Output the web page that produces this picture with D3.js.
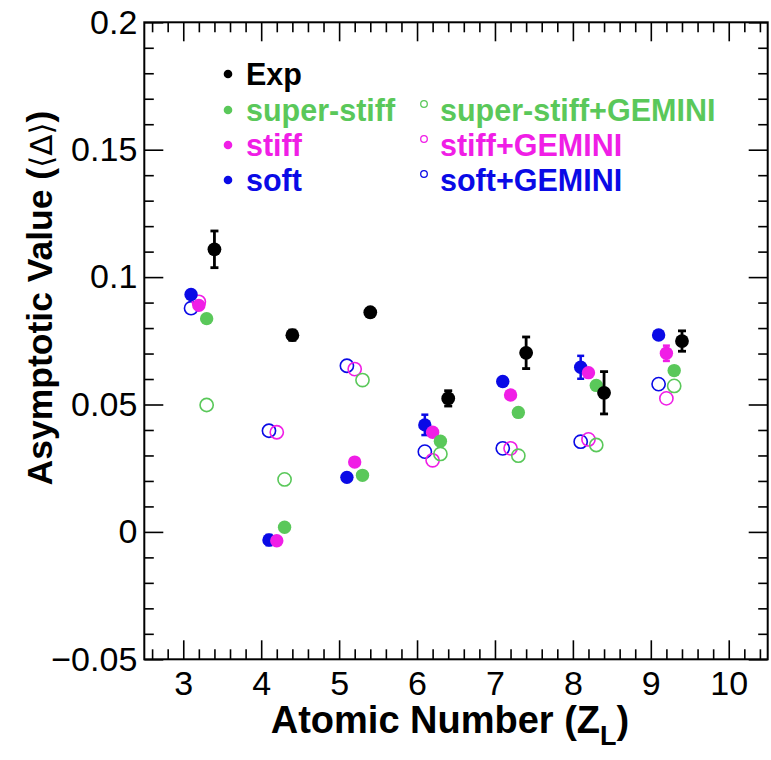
<!DOCTYPE html>
<html>
<head>
<meta charset="utf-8">
<script src="https://cdn.jsdelivr.net/npm/d3@7"></script>
<style>
  html, body { margin: 0; padding: 0; background: #fff; }
  svg { display: block; font-family: "Liberation Sans", Arial, Helvetica, sans-serif; }
</style>
</head>
<body>
<svg id="chart" width="771" height="760"></svg>
<script>
// Atomic numbers of the light fragments
const zValues = [3, 4, 5, 6, 7, 8, 9];

// Experimental asymptotic values and their uncertainties
const expValues = [0.1109, 0.0772, 0.0862, 0.0524, 0.0703, 0.0546, 0.0749];
const expErrors = [0.0072, 0.0020, 0.0015, 0.0030, 0.0062, 0.0083, 0.0040];

// Transport model results (filled markers)
const softValues       = [0.0932, -0.0032, 0.0214, 0.0420, 0.0590, 0.0646, 0.0773];
const softErrors       = [0.0010, 0.0020, 0.0010, 0.0040, 0.0015, 0.0045, 0.0015];
const stiffValues      = [0.0889, -0.0035, 0.0274, 0.0391, 0.0537, 0.0625, 0.0701];
const stiffErrors      = [0.0015, 0.0010, 0.0012, 0.0015, 0.0015, 0.0015, 0.0030];
const superStiffValues = [0.0837, 0.0018, 0.0222, 0.0356, 0.0469, 0.0575, 0.0633];
const superStiffErrors = [0.0010, 0.0010, 0.0010, 0.0012, 0.0010, 0.0012, 0.0012];

// Transport model + GEMINI afterburner (open markers)
const softGemValues       = [0.0878, 0.0397, 0.0652, 0.0315, 0.0328, 0.0354, 0.0580];
const stiffGemValues      = [0.0903, 0.0391, 0.0639, 0.0281, 0.0328, 0.0363, 0.0524];
const superStiffGemValues = [0.0498, 0.0206, 0.0596, 0.0306, 0.0299, 0.0341, 0.0573];

// Axis ticks
const xMajorTicks = [3, 4, 5, 6, 7, 8, 9, 10];
const yMajorTicks = [-0.05, 0, 0.05, 0.1, 0.15, 0.2];
const yTickLabels = ["\u22120.05", "0", "0.05", "0.1", "0.15", "0.2"];

const BLUE = "#0a0ae6", MAGENTA = "#f01ee6", GREEN = "#5ac85a";

const svg = d3.select("#chart");
const x = d3.scaleLinear().domain([2.5, 10.5]).range([144.3, 767.7]);
const y = d3.scaleLinear().domain([-0.05, 0.2]).range([659.3, 22.3]);

const xMinor = d3.range(2.6, 10.5, 0.2).map(v => +v.toFixed(1)).filter(v => Math.abs(v - Math.round(v)) > 1e-6);
const yMinor = d3.range(-0.04, 0.2, 0.01).map(v => +v.toFixed(2)).filter(v => Math.abs(v * 20 - Math.round(v * 20)) > 1e-6);

const plotH = y(-0.05) - y(0.2);
const plotW = x(10.5) - x(2.5);

function styleAxis(g) {
  g.select(".domain").remove();
  g.selectAll(".tick line").attr("stroke", "#000").attr("stroke-width", 1.6);
}

// bottom axis with labels
svg.append("g").attr("transform", `translate(0,${y(-0.05)})`)
  .call(d3.axisBottom(x).tickValues(xMajorTicks).tickSize(-19).tickPadding(12).tickFormat(d3.format("d")))
  .call(styleAxis)
  .call(g => g.selectAll("text").attr("font-size", 34).attr("fill", "#000").attr("font-family", null));
svg.append("g").attr("transform", `translate(0,${y(-0.05)})`)
  .call(d3.axisBottom(x).tickValues(xMinor).tickSize(-10).tickFormat(""))
  .call(styleAxis);
// top axis ticks
svg.append("g").attr("transform", `translate(0,${y(0.2)})`)
  .call(d3.axisTop(x).tickValues(xMajorTicks).tickSize(-19).tickFormat(""))
  .call(styleAxis);
svg.append("g").attr("transform", `translate(0,${y(0.2)})`)
  .call(d3.axisTop(x).tickValues(xMinor).tickSize(-10).tickFormat(""))
  .call(styleAxis);

// left axis with labels
svg.append("g").attr("transform", `translate(${x(2.5)},0)`)
  .call(d3.axisLeft(y).tickValues(yMajorTicks).tickSize(-19).tickPadding(7)
    .tickFormat((d, i) => yTickLabels[i]))
  .call(styleAxis)
  .call(g => g.selectAll("text").attr("font-size", 34).attr("fill", "#000").attr("font-family", null));
svg.append("g").attr("transform", `translate(${x(2.5)},0)`)
  .call(d3.axisLeft(y).tickValues(yMinor).tickSize(-9.5).tickFormat(""))
  .call(styleAxis);
// right axis ticks
svg.append("g").attr("transform", `translate(${x(10.5)},0)`)
  .call(d3.axisRight(y).tickValues(yMajorTicks).tickSize(-19).tickFormat(""))
  .call(styleAxis);
svg.append("g").attr("transform", `translate(${x(10.5)},0)`)
  .call(d3.axisRight(y).tickValues(yMinor).tickSize(-9.5).tickFormat(""))
  .call(styleAxis);

// frame
svg.append("rect")
  .attr("x", x(2.5)).attr("y", y(0.2)).attr("width", plotW).attr("height", plotH)
  .attr("fill", "none").attr("stroke", "#000").attr("stroke-width", 2);

// axis titles
const xt = svg.append("text")
  .attr("x", 450).attr("y", 733).attr("text-anchor", "middle")
  .attr("font-size", 38).attr("font-weight", "bold").attr("fill", "#000");
xt.append("tspan").text("Atomic Number (Z");
xt.append("tspan").attr("font-size", 27).attr("dy", 12).text("L");
xt.append("tspan").attr("dy", -12).text(")");

const yt = svg.append("text")
  .attr("transform", "translate(52,298) rotate(-90)")
  .attr("text-anchor", "middle")
  .attr("font-size", 35.5).attr("font-weight", "bold").attr("fill", "#000");
yt.append("tspan").text("Asymptotic Value (");
yt.append("tspan").attr("font-weight", "normal").attr("font-family", "DejaVu Sans").attr("font-size", 31).text("\u27E8\u0394\u27E9");
yt.append("tspan").text(")");

// data layers
const plot = svg.append("g");

function openSeries(values, dz, color) {
  plot.append("g").selectAll("circle").data(values).join("circle")
    .attr("cx", (d, i) => x(zValues[i] + dz)).attr("cy", d => y(d))
    .attr("r", 6.6).attr("fill", "none").attr("stroke", color).attr("stroke-width", 1.6);
}

function filledSeries(values, errors, dz, color, r, capW, lw) {
  const g = plot.append("g");
  const pts = values.map((v, i) => ({ z: zValues[i] + dz, v, e: errors[i] }));
  g.selectAll("line.err").data(pts).join("line").attr("class", "err")
    .attr("x1", d => x(d.z)).attr("x2", d => x(d.z))
    .attr("y1", d => y(d.v - d.e)).attr("y2", d => y(d.v + d.e))
    .attr("stroke", color).attr("stroke-width", lw);
  [-1, 1].forEach(s => {
    g.selectAll("line.cap" + (s > 0 ? "p" : "m")).data(pts).join("line").attr("class", "cap" + (s > 0 ? "p" : "m"))
      .attr("x1", d => x(d.z) - capW).attr("x2", d => x(d.z) + capW)
      .attr("y1", d => y(d.v + s * d.e)).attr("y2", d => y(d.v + s * d.e))
      .attr("stroke", color).attr("stroke-width", lw);
  });
  g.selectAll("circle").data(pts).join("circle")
    .attr("cx", d => x(d.z)).attr("cy", d => y(d.v)).attr("r", r).attr("fill", color);
}

openSeries(softGemValues, 0.1, BLUE);
openSeries(stiffGemValues, 0.2, MAGENTA);
openSeries(superStiffGemValues, 0.3, GREEN);
filledSeries(softValues, softErrors, 0.1, BLUE, 6.7, 3.5, 2.5);
filledSeries(stiffValues, stiffErrors, 0.2, MAGENTA, 6.7, 3.5, 2.5);
filledSeries(superStiffValues, superStiffErrors, 0.3, GREEN, 6.7, 3.5, 2.5);
filledSeries(expValues, expErrors, 0.4, "#000", 6.9, 4, 2.8);

// legend
const legendRows = [
  { label: "Exp", color: "#000", col: 0, row: 0, open: false },
  { label: "super-stiff", color: GREEN, col: 0, row: 1, open: false },
  { label: "stiff", color: MAGENTA, col: 0, row: 2, open: false },
  { label: "soft", color: BLUE, col: 0, row: 3, open: false },
  { label: "super-stiff+GEMINI", color: GREEN, col: 1, row: 1, open: true },
  { label: "stiff+GEMINI", color: MAGENTA, col: 1, row: 2, open: true },
  { label: "soft+GEMINI", color: BLUE, col: 1, row: 3, open: true }
];
const legY = [74, 110, 145, 180];
const legMarkX = [228, 424];
const legTextX = [246, 440];
const leg = svg.append("g");
legendRows.forEach(d => {
  const cy = legY[d.row];
  if (d.open) {
    leg.append("circle").attr("cx", legMarkX[d.col]).attr("cy", cy - 6).attr("r", 3.3)
      .attr("fill", "none").attr("stroke", d.color).attr("stroke-width", 1.3);
  } else {
    leg.append("circle").attr("cx", legMarkX[d.col]).attr("cy", cy).attr("r", 4.3).attr("fill", d.color);
  }
  leg.append("text").attr("x", legTextX[d.col]).attr("y", cy).attr("dy", "0.36em")
    .attr("font-size", 30.5).attr("font-weight", "bold").attr("fill", d.color).text(d.label);
});
</script>
</body>
</html>
